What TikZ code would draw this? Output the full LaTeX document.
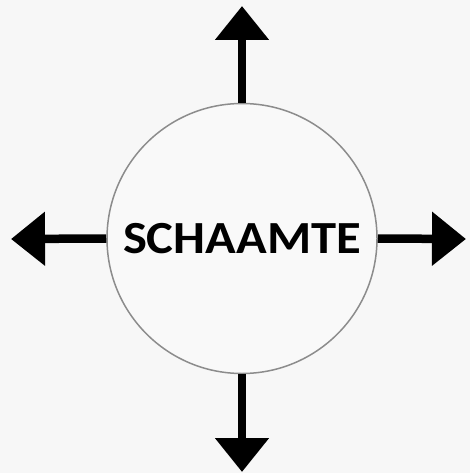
\documentclass[tikz,border=0pt]{standalone}
\usepackage{fontspec}
\setmainfont{Carlito}
\usetikzlibrary{arrows.meta}
\definecolor{bg}{HTML}{F7F7F7}
\definecolor{ring}{HTML}{8C8C8C}
\definecolor{disc}{HTML}{F9F9F9}
\tikzset{
  bigarrow/.style={line width=8.5pt, -{Triangle[length=34pt,width=52pt]}},
  hub/.style={circle, draw=ring, line width=1.5pt, fill=disc, minimum size=270pt, inner sep=0pt,
    font=\fontsize{46}{50}\selectfont\bfseries}
}
\begin{document}
\begin{tikzpicture}[x=1pt,y=-1pt]
\fill[bg] (0,0) rectangle (470,473);
\useasboundingbox (0,0) rectangle (470,473);
\node[hub] (c) at (242,238.5) {\scalebox{1.1}[1]{SCHAAMTE}};
\coordinate (tN) at (242,6);
\coordinate (tS) at (242,472);
\coordinate (tW) at (11,239);
\coordinate (tE) at (466,239);
\draw[bigarrow] (c.north) -- (tN);
\draw[bigarrow] (c.south) -- (tS);
\draw[bigarrow] (c.west) -- (tW);
\draw[bigarrow] (c.east) -- (tE);
\end{tikzpicture}
\end{document}
